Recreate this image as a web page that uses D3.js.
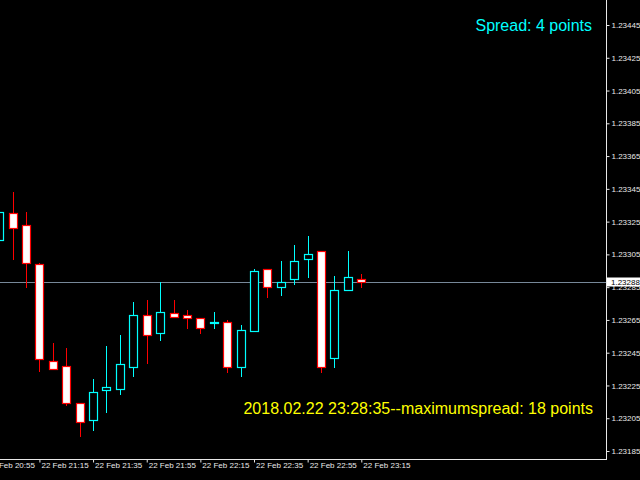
<!DOCTYPE html>
<html>
<head>
<meta charset="utf-8">
<script src="https://cdn.jsdelivr.net/npm/d3@7/dist/d3.min.js"></script>
<style>
  html, body { margin: 0; padding: 0; background: #000; }
  svg { display: block; }
</style>
</head>
<body>
<svg id="chart" width="640" height="480"></svg>
<script>
// ---- data (EURUSD-like M5 bars, 22 Feb 2018) ----
const times = ["21:00","21:05","21:10","21:15","21:20","21:25","21:30","21:35","21:40","21:45",
               "21:50","21:55","22:00","22:05","22:10","22:15","22:20","22:25","22:30","22:35",
               "22:40","22:45","22:50","22:55","23:00","23:05","23:10","23:15"];
const opens  = [1.23314,1.23330,1.23323,1.23299,1.23240,1.23237,1.23214,1.23204,1.23222,1.23223,
                1.23236,1.23268,1.23257,1.23269,1.23268,1.23266,1.23263,1.23264,1.23236,1.23258,
                1.23296,1.23285,1.23290,1.23302,1.23307,1.23242,1.23283,1.23290];
const highs  = [1.23333,1.23343,1.23331,1.23300,1.23251,1.23248,1.23214,1.23229,1.23249,1.23256,
                1.23276,1.23277,1.23288,1.23277,1.23271,1.23266,1.23270,1.23265,1.23262,1.23296,
                1.23296,1.23301,1.23311,1.23316,1.23307,1.23292,1.23307,1.23293];
const lows   = [1.23312,1.23302,1.23285,1.23234,1.23235,1.23213,1.23194,1.23198,1.23209,1.23220,
                1.23231,1.23239,1.23253,1.23267,1.23260,1.23257,1.23260,1.23233,1.23231,1.23258,
                1.23279,1.23280,1.23287,1.23291,1.23233,1.23236,1.23283,1.23285];
const closes = [1.23331,1.23321,1.23300,1.23241,1.23235,1.23214,1.23203,1.23221,1.23224,1.23238,
                1.23268,1.23256,1.23270,1.23267,1.23266,1.23260,1.23264,1.23236,1.23259,1.23295,
                1.23285,1.23288,1.23301,1.23305,1.23236,1.23283,1.23291,1.23288];
const priceTicks = [1.23185,1.23205,1.23225,1.23245,1.23265,1.23285,1.23305,1.23325,
                    1.23345,1.23365,1.23385,1.23405,1.23425,1.23445];
const timeTicks = ["20:55","21:15","21:35","21:55","22:15","22:35","22:55","23:15"];
const bidPrice = 1.23288;
const spreadText = "Spread: 4 points";
const maxSpreadText = "2018.02.22 23:28:35--maximumspread: 18 points";

// ---- setup ----
const W = 640, H = 480;
const plotRight = 606, plotBottom = 459;
const parse = t => d3.timeParse("%Y-%m-%d %H:%M")("2018-02-22 " + t);

const bars = times.map((t, i) => ({
  t: parse(t), o: opens[i], h: highs[i], l: lows[i], c: closes[i]
}));

const x = d3.scaleTime()
  .domain([parse("21:00"), parse("23:15")])
  .range([-0.8, 361.3]);
const y = d3.scaleLinear()
  .domain([1.23185, 1.23445])
  .range([451, 25]);

const svg = d3.select("#chart");
svg.append("rect").attr("width", W).attr("height", H).attr("fill", "#000");

const font = "'Liberation Sans', Arial, sans-serif";

// clip
svg.append("defs").append("clipPath").attr("id", "plot")
  .append("rect").attr("x", 0).attr("y", 0).attr("width", plotRight).attr("height", plotBottom);

const plot = svg.append("g").attr("clip-path", "url(#plot)");

// bid line
plot.append("line")
  .attr("x1", 0).attr("x2", plotRight)
  .attr("y1", Math.round(y(bidPrice)) + 0.5).attr("y2", Math.round(y(bidPrice)) + 0.5)
  .attr("stroke", "#778899").attr("stroke-width", 1);

// candles
const bull = "#00ffff", bear = "#ff0000";
const cg = plot.selectAll("g.candle").data(bars).enter().append("g").attr("class", "candle");
cg.append("line")
  .attr("x1", d => Math.round(x(d.t)) + 0.5)
  .attr("x2", d => Math.round(x(d.t)) + 0.5)
  .attr("y1", d => Math.round(y(d.h)))
  .attr("y2", d => Math.round(y(d.l)) + 1)
  .attr("stroke", d => d.c >= d.o ? bull : bear)
  .attr("stroke-width", 1);
cg.append("rect")
  .attr("x", d => Math.round(x(d.t)) - 4 + 0.5)
  .attr("width", 8)
  .attr("y", d => Math.round(y(Math.max(d.o, d.c))) + 0.5)
  .attr("height", d => Math.max(1, Math.round(y(Math.min(d.o, d.c))) - Math.round(y(Math.max(d.o, d.c)))))
  .attr("fill", d => d.c >= d.o ? "#000" : "#fff")
  .attr("stroke", d => d.c >= d.o ? bull : bear)
  .attr("stroke-width", 1.2);

// frame
svg.append("line").attr("x1", plotRight + 0.5).attr("x2", plotRight + 0.5)
  .attr("y1", 0).attr("y2", plotBottom + 1).attr("stroke", "#e8e8e8");
svg.append("line").attr("x1", 0).attr("x2", plotRight + 1)
  .attr("y1", plotBottom + 0.5).attr("y2", plotBottom + 0.5).attr("stroke", "#e8e8e8");

// y axis
const yAxis = d3.axisRight(y).tickValues(priceTicks).tickSize(3).tickPadding(2)
  .tickFormat(d3.format(".5f"));
const yg = svg.append("g").attr("transform", `translate(${plotRight + 0.5},0)`).call(yAxis);
yg.select(".domain").remove();
yg.selectAll(".tick line").attr("stroke", "#e8e8e8");
yg.selectAll(".tick text").attr("fill", "#e8e8e8")
  .style("font-family", font).style("font-size", "8px");

// x axis
const xAxis = d3.axisBottom(x).tickValues(timeTicks.map(parse)).tickSize(3).tickPadding(1)
  .tickFormat(d3.timeFormat("%d %b %H:%M"));
const xg = svg.append("g").attr("transform", `translate(0,${plotBottom + 0.5})`).call(xAxis);
xg.select(".domain").remove();
xg.selectAll(".tick line").attr("stroke", "#e8e8e8");
xg.selectAll(".tick text").attr("fill", "#e8e8e8")
  .attr("text-anchor", "start").attr("dx", "1.5").attr("dy", "0.6em")
  .style("font-family", font).style("font-size", "8px");

// bid price label
const by = Math.round(y(bidPrice));
svg.append("rect").attr("x", plotRight + 1).attr("y", by - 4.5)
  .attr("width", 33).attr("height", 9).attr("fill", "#fff");
svg.append("text").attr("x", 611).attr("y", by + 3)
  .attr("fill", "#000").style("font-family", font).style("font-size", "8px")
  .text(d3.format(".5f")(bidPrice));

// info texts
svg.append("text").attr("x", 592).attr("y", 31).attr("text-anchor", "end")
  .attr("fill", "#00ffff").style("font-family", font).style("font-size", "16px")
  .text(spreadText);
svg.append("text").attr("x", 593).attr("y", 414).attr("text-anchor", "end")
  .attr("fill", "#ffff00").style("font-family", font).style("font-size", "16px")
  .text(maxSpreadText);
</script>
</body>
</html>
